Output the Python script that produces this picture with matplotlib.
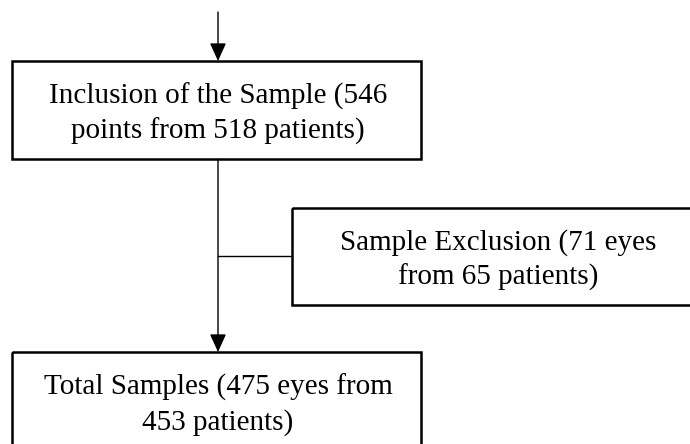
import matplotlib
matplotlib.use("Agg")
import matplotlib.pyplot as plt
from matplotlib.patches import Rectangle

labels = [
    "Inclusion of the Sample (546\npoints from 518 patients)",
    "Sample Exclusion (71 eyes\nfrom 65 patients)",
    "Total Samples (475 eyes from\n453 patients)",
]

plt.rcParams['font.family'] = ['Liberation Serif', 'DejaVu Serif']

fig = plt.figure(figsize=(6.9, 4.44), dpi=100)
ax = fig.add_axes([0, 0, 1, 1])
ax.set_xlim(0, 690)
ax.set_ylim(444, 0)
ax.axis('off')

# box geometry (pixels)
boxes = [
    (12, 61, 409, 98),
    (292, 208, 420, 97),
    (12, 352, 409, 110),
]
text_centers = [(218, 114), (498, 260), (218, 405)]

for (x, y, w, h), lab, (tx, ty) in zip(boxes, labels, text_centers):
    ax.add_patch(Rectangle((x, y), w, h, fill=False, edgecolor='black',
                           linewidth=1.8, clip_on=True))
    ax.text(tx, ty, lab, ha='center', va='center', fontsize=21,
            linespacing=1.4, color='black')

arrow_kw = dict(arrowstyle='-|>,head_length=1.1,head_width=0.5',
                color='black', lw=1.0, shrinkA=0, shrinkB=0)
# top arrow
ax.annotate('', xy=(218, 61), xytext=(218, 12), arrowprops=arrow_kw)
# main arrow
ax.annotate('', xy=(218, 352), xytext=(218, 159), arrowprops=arrow_kw)
# branch line
ax.plot([218, 292], [256, 256], color='black', lw=1.0)

fig.savefig('out.png', dpi=100)
